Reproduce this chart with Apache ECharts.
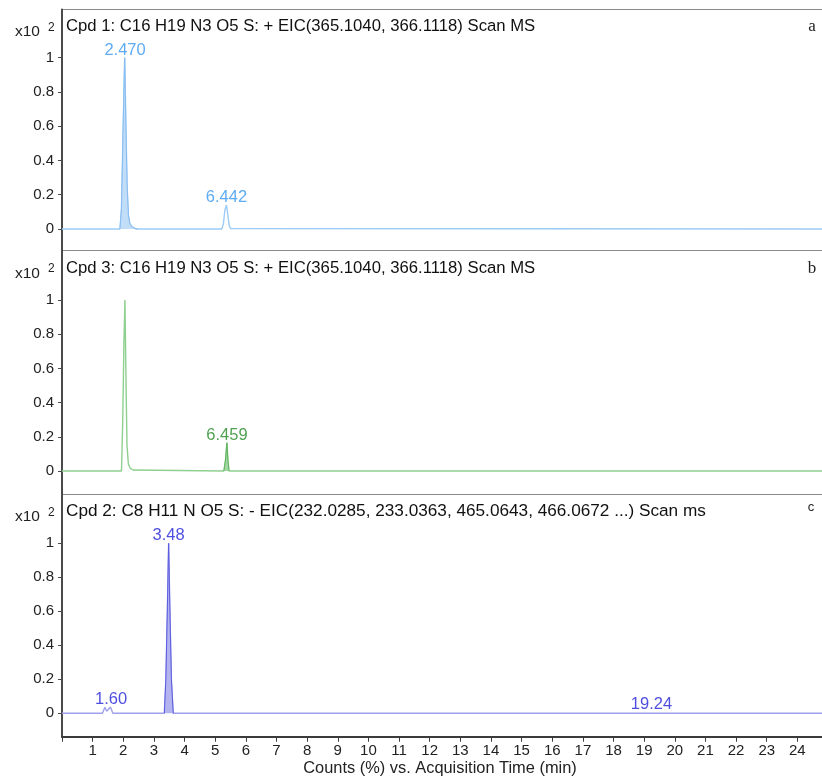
<!DOCTYPE html>
<html>
<head>
<meta charset="utf-8">
<script src="https://cdn.jsdelivr.net/npm/echarts@6/dist/echarts.min.js"></script>
<style>html,body{margin:0;padding:0;background:#fff;}#c{width:822px;height:778px;}</style>
</head>
<body>
<div id="c"></div>
<script>
// ---- data (minutes, counts x10^2) ----
var traceA = [[0,0],[2.27,0],[2.33,0.12],[2.39,0.55],[2.455,1.0],[2.50,0.62],[2.55,0.25],[2.60,0.08],[2.66,0.03],[2.75,0.012],[2.86,0.003],[2.95,0],[6.26,0],[6.32,0.03],[6.38,0.11],[6.44,0.14],[6.49,0.09],[6.54,0.025],[6.60,0.003],[6.66,0],[30,0]];
var fillRangesA = [[2.26,2.96]];
var peakTimesA = ['2.470','6.442'];
var peakHeightsA = [1.0, 0.14];

var traceB = [[0,0],[2.33,0],[2.38,0.3],[2.425,0.75],[2.465,1.0],[2.50,0.6],[2.545,0.15],[2.60,0.04],[2.68,0.015],[2.78,0.006],[2.85,0],[6.34,0],[6.40,0.06],[6.459,0.165],[6.50,0.06],[6.54,0],[30,0]];
var fillRangesB = [[6.33,6.55]];
var peakTimesB = ['6.459'];
var peakHeightsB = [0.165];

var traceC = [[0,0],[1.32,0],[1.40,0.035],[1.46,0.012],[1.52,0.018],[1.58,0.037],[1.66,0],[3.34,0],[3.39,0.2],[3.44,0.62],[3.48,1.0],[3.52,0.62],[3.57,0.2],[3.63,0],[19.18,0],[19.24,0.006],[19.30,0],[25,0]];
var fillRangesC = [[3.33,3.64]];
var peakTimesC = ['1.60','3.48','19.24'];
var peakHeightsC = [0.037, 1.0, 0.006];

var yTicks = [0, 0.2, 0.4, 0.6, 0.8, 1];
var titles = [
  'Cpd 1: C16 H19 N3 O5 S: + EIC(365.1040, 366.1118) Scan MS',
  'Cpd 3: C16 H19 N3 O5 S: + EIC(365.1040, 366.1118) Scan MS',
  'Cpd 2: C8 H11 N O5 S: - EIC(232.0285, 233.0363, 465.0643, 466.0672 ...) Scan ms'
];
var panelLetters = ['a','b','c'];
var xTitle = 'Counts (%) vs. Acquisition Time (min)';

// ---- build ----
var FONT = "'Liberation Sans', Arial, sans-serif";
function fillData(trace, ranges){
  return ranges.map(function(r){
    return trace.filter(function(p){return p[0]>=r[0] && p[0]<=r[1];});
  });
}
function labelData(times, heights){
  return times.map(function(t,i){return {value:[parseFloat(t), heights[i]], name:t};});
}

var panels = [
  {trace:traceA, fills:fillRangesA, times:peakTimesA, heights:peakHeightsA, line:'#9ccbf5', fillLine:'#86bdf2', fill:'#c2ddf8', lab:'#3596f0', ymin:-0.1255, ymax:1.281, xmax:30},
  {trace:traceB, fills:fillRangesB, times:peakTimesB, heights:peakHeightsB, line:'#8fcf8f', fillLine:'#5fb35f', fill:'#a3d8a3', lab:'#238a23', ymin:-0.1374, ymax:1.2895, xmax:30},
  {trace:traceC, fills:fillRangesC, times:peakTimesC, heights:peakHeightsC, line:'#a0a0ec', fillLine:'#5c5ce0', fill:'#b3b3f0', lab:'#2222d8', ymin:-0.1376, ymax:1.287, xmax:25}
];

var grids = [
  {left:62, right:-6, top:9.5, height:241},
  {left:62, right:-6, top:250.5, height:244},
  {left:62, right:-6, top:494.5, height:242.2}
];
grids.forEach(function(g){ g.show = true; g.borderColor = '#8a8a8a'; g.borderWidth = 1.2; g.backgroundColor='transparent'; g.outerBoundsMode='none'; g.containLabel=false; });

var xAxes = [], yAxes = [], series = [];
panels.forEach(function(p, i){
  var isBottom = (i === 2);
  xAxes.push({
    type:'value', gridIndex:i, min:0, max:p.xmax, interval:1,
    show: isBottom,
    axisLine:{show:true, onZero:false, lineStyle:{color:'#3a3a3a', width:2}},
    axisTick:{show:true, length:5, lineStyle:{color:'#3a3a3a', width:1}},
    axisLabel:{show:true, fontFamily:FONT, fontSize:15, color:'#222', margin:7,
      formatter:function(v){return (v===0 || v>=25)?'':String(v);}},
    splitLine:{show:false},
    name: isBottom ? xTitle : '', nameLocation:'middle', nameGap:24,
    nameTextStyle:{fontFamily:FONT, fontSize:16.4, color:'#222', padding:[0,10,0,0]}
  });
  yAxes.push({
    type:'value', gridIndex:i, min:p.ymin, max:p.ymax,
    axisLine:{show:true, lineStyle:{color:'#4a4a4a', width:2}},
    axisTick:{show:true, length:4, customValues:yTicks, lineStyle:{color:'#4a4a4a'}},
    axisLabel:{show:true, customValues:yTicks, fontFamily:FONT, fontSize:15, color:'#222', margin:8,
      formatter:function(v){return String(Math.round(v*10)/10);}},
    splitLine:{show:false}
  });
  series.push({
    type:'line', xAxisIndex:i, yAxisIndex:i, data:p.trace, symbol:'none',
    lineStyle:{color:p.line, width:1.4}, z:2, silent:true
  });
  fillData(p.trace, p.fills).forEach(function(seg){
    series.push({
      type:'line', xAxisIndex:i, yAxisIndex:i, data:seg, symbol:'none',
      lineStyle:{color:p.fillLine, width:1}, areaStyle:{color:p.fill, opacity:1, origin:0}, z:3, silent:true
    });
  });
  series.push({
    type:'scatter', xAxisIndex:i, yAxisIndex:i, symbolSize:0, data:labelData(p.times, p.heights),
    label:{show:true, position:'top', distance:-1, formatter:'{b}', fontFamily:FONT, fontSize:16.5, color:p.lab},
    z:5, silent:true
  });
});

var titleY = [26.5, 268.2, 510.8];
var x10Y = [31.7, 273.3, 516.7];
var letterY = [26.7, 268.3, 507.7];
var titleSizes = [16.7, 16.7, 17.2];
var graphics = [];
titles.forEach(function(t, i){
  graphics.push({type:'text', x:66, y:titleY[i], style:{text:t, font:titleSizes[i]+"px "+FONT, fill:'#111', textVerticalAlign:'middle', textAlign:'left'}, z:10});
  graphics.push({type:'text', x:15, y:x10Y[i], style:{text:'x10', font:"15.5px "+FONT, fill:'#222', textVerticalAlign:'middle', textAlign:'left'}, z:10});
  graphics.push({type:'text', x:48, y:x10Y[i]-4.5, style:{text:'2', font:"12px "+FONT, fill:'#222', textVerticalAlign:'middle', textAlign:'left'}, z:10});
  var isC = (i === 2);
  graphics.push({type:'text', x:isC?811:812, y:letterY[i], style:{text:panelLetters[i], font:isC?("13px "+FONT):"17px 'Liberation Serif', 'Times New Roman', serif", fill:'#222', textVerticalAlign:'middle', textAlign:'center'}, z:10});
});

var chart = echarts.init(document.getElementById('c'), null, {renderer:'canvas'});
chart.setOption({
  animation:false,
  backgroundColor:'#fff',
  grid:grids, xAxis:xAxes, yAxis:yAxes, series:series, graphic:graphics
});
</script>
</body>
</html>
